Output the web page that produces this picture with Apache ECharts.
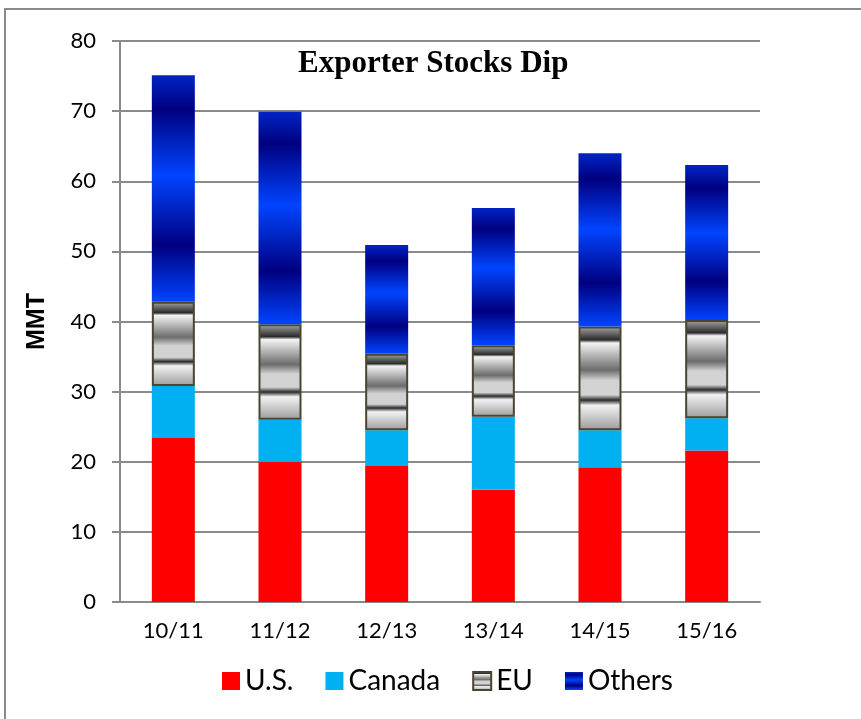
<!DOCTYPE html>
<html>
<head>
<meta charset="utf-8">
<script src="https://cdn.jsdelivr.net/npm/echarts@6/dist/echarts.min.js"></script>
<style>
  html, body { margin: 0; padding: 0; background: #fff; }
  #chart { width: 861px; height: 719px; }
</style>
</head>
<body>
<div id="chart"></div>
<script>
// data (MMT)
const seasons = ['10/11', '11/12', '12/13', '13/14', '14/15', '15/16']
const usStocks = [23.4, 20.0, 19.4, 16.0, 19.2, 21.6]
const canadaStocks = [7.4, 6.0, 5.1, 10.4, 5.3, 4.6]
const euStocks = [12.0, 13.6, 10.9, 10.2, 14.8, 14.0]
const otherStocks = [32.3, 30.3, 15.5, 19.6, 24.7, 22.1]

const grad = (stops) => new echarts.graphic.LinearGradient(0, 0, 0, 1,
  stops.map(s => ({offset: s[0], color: s[1]})))

// striped chrome look of the EU bars
const euFill = grad([
  [0, '#a8a8a8'], [0.13, '#2a2a2a'], [0.16, '#f4f4f4'], [0.42, '#6c6c6c'],
  [0.52, '#d2d2d2'], [0.66, '#d2d2d2'], [0.71, '#2a2a2a'], [0.76, '#f2f2f2'], [1, '#9c9c9c']
])
// banded blue of the Others bars
const othersFill = grad([
  [0, '#0024c4'], [0.15, '#000080'], [0.44, '#0044ff'], [0.75, '#000080'], [1, '#0044ff']
])

const font = 'Lato'
const chart = echarts.init(document.getElementById('chart'))

const option = {
  animation: false,
  title: {
    text: 'Exporter Stocks Dip',
    left: 293,
    top: 43,
    textStyle: {fontFamily: 'Liberation Serif', fontWeight: 'bold', fontSize: 31, color: '#000'}
  },
  legend: {
    left: 217,
    top: 662,
    icon: 'rect',
    itemWidth: 18,
    itemHeight: 18,
    itemGap: 32,
    textStyle: {fontFamily: font, fontSize: 28, color: '#000'},
    data: ['U.S.', 'Canada', 'EU', 'Others']
  },
  grid: {left: 120, right: 101, top: 41, bottom: 117},
  xAxis: {
    type: 'category',
    data: seasons,
    axisLine: {lineStyle: {color: '#8a8a8a', width: 2}},
    axisTick: {length: 8, lineStyle: {color: '#8a8a8a', width: 2}},
    axisLabel: {fontFamily: font, fontSize: 22, color: '#000', margin: 18}
  },
  yAxis: {
    type: 'value',
    min: 0,
    max: 80,
    interval: 10,
    name: 'MMT',
    nameLocation: 'middle',
    nameGap: 70,
    nameRotate: 90,
    nameTextStyle: {fontFamily: 'Liberation Sans', fontWeight: 'bold', fontSize: 25, color: '#000'},
    axisLine: {show: true, lineStyle: {color: '#8a8a8a', width: 2}},
    axisTick: {show: true, length: 8, lineStyle: {color: '#8a8a8a', width: 2}},
    axisLabel: {fontFamily: font, fontSize: 22, color: '#000', margin: 24},
    splitLine: {lineStyle: {color: '#8a8a8a', width: 2}}
  },
  series: [
    {name: 'U.S.', type: 'bar', stack: 's', barWidth: 43, data: usStocks,
      itemStyle: {color: '#ff0000'}},
    {name: 'Canada', type: 'bar', stack: 's', data: canadaStocks,
      itemStyle: {color: '#00b0f0'}},
    {name: 'EU', type: 'bar', stack: 's', data: euStocks,
      itemStyle: {color: euFill, borderColor: '#4a4430', borderWidth: 2}},
    {name: 'Others', type: 'bar', stack: 's', data: otherStocks,
      itemStyle: {color: othersFill}}
  ],
  graphic: [
    {
      type: 'rect',
      shape: {x: 5, y: 9, width: 900, height: 800},
      style: {fill: 'none', stroke: '#8a8a8a', lineWidth: 2},
      silent: true
    }
  ]
}

chart.setOption(option)
</script>
</body>
</html>
